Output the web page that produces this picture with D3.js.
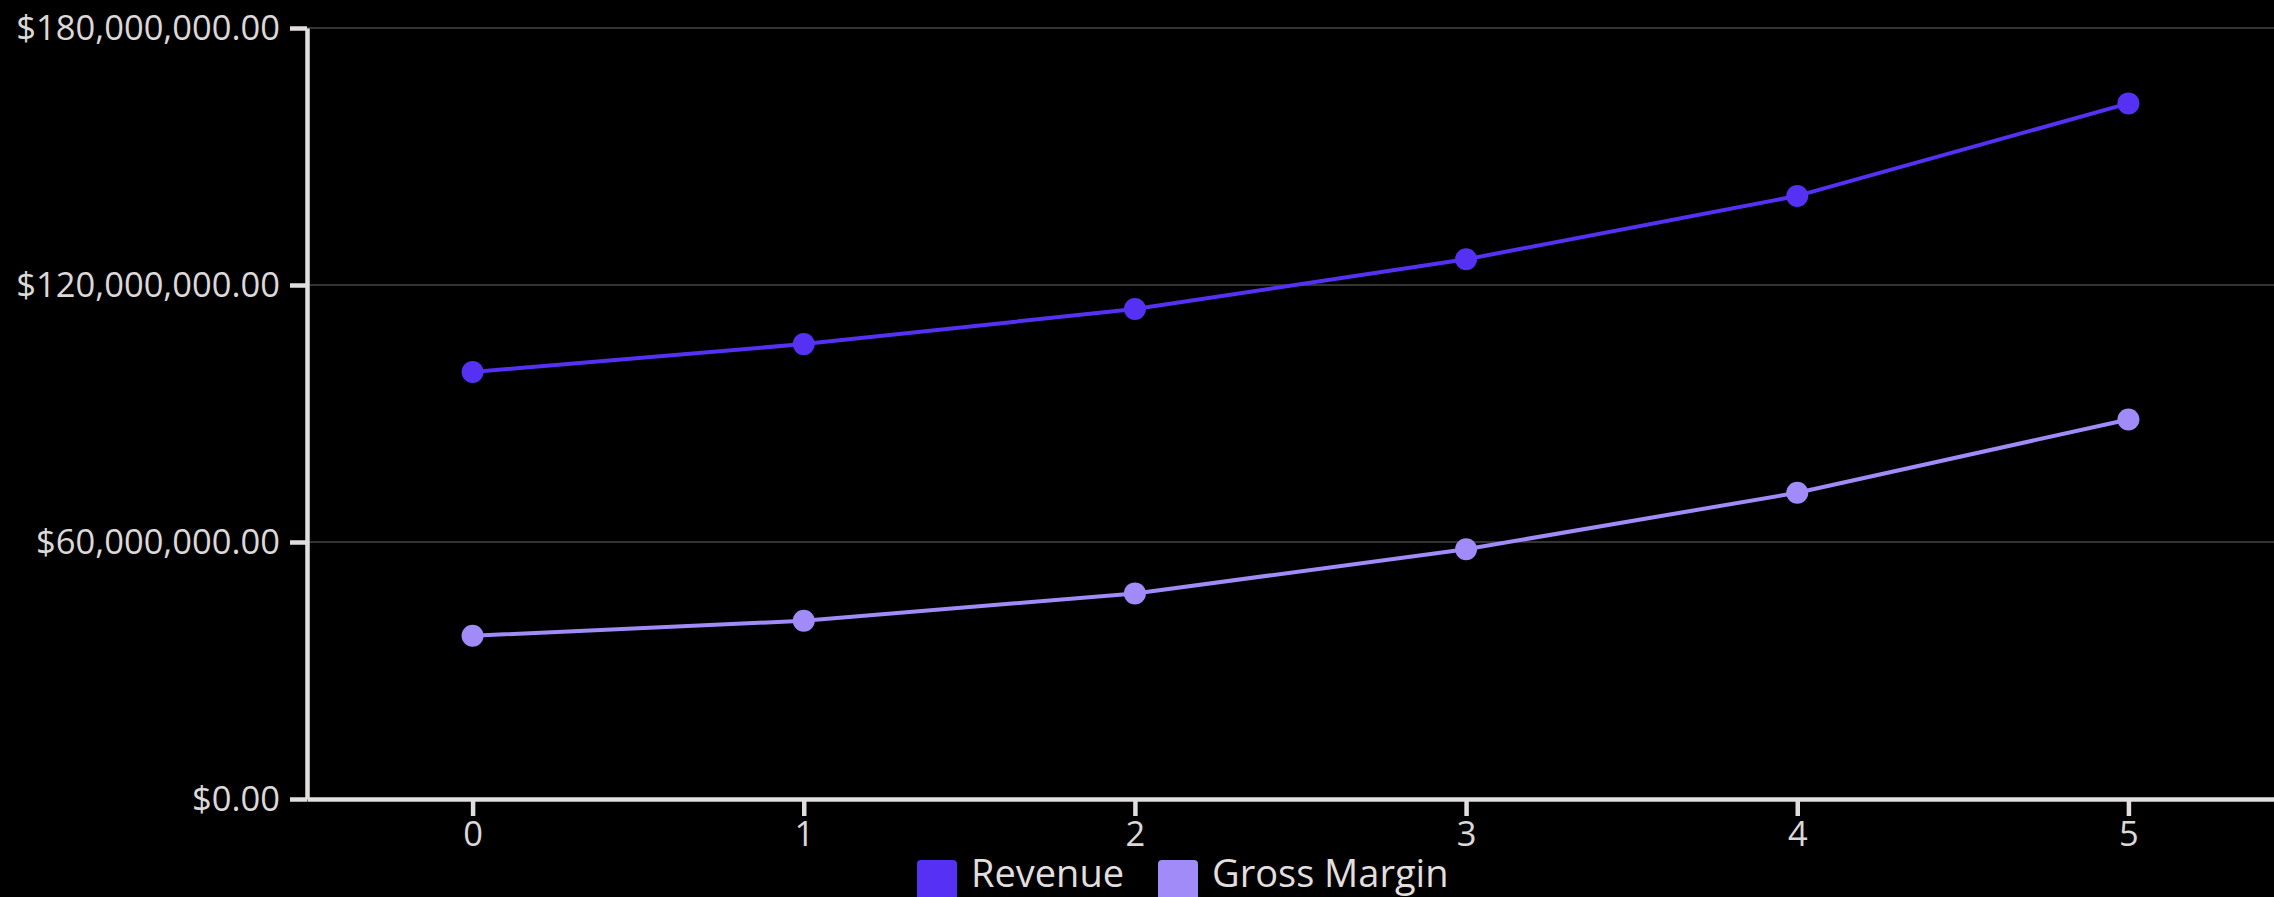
<!DOCTYPE html>
<html>
<head>
    <script src="https://d3js.org/d3.v7.min.js"></script>
    <style>
        html, body {
            margin: 0;
            padding: 0;
            background: #000;
            overflow: hidden;
        }
        body {
            font-family: 'Open Sans', sans-serif;
        }
        .axis text {
            fill: #dcd8d8;
            font-size: 34.5px;
            font-family: 'Open Sans', sans-serif;
        }
        .axis path, .axis line {
            stroke: #e2dede;
            stroke-width: 4.5px;
        }
        .grid line {
            stroke: #333;
            stroke-width: 2px;
        }
        .legend text {
            fill: #e2dede;
            font-size: 38px;
            font-family: 'Open Sans', sans-serif;
        }
    </style>
</head>
<body>
<div id="chart"></div>
<script>
////////////////////////////////////////////////////////////
//////////////////////// Data //////////////////////////////
////////////////////////////////////////////////////////////
var periods = [0, 1, 2, 3, 4, 5];
var revenue = [99700000, 106200000, 114400000, 126000000, 140800000, 162400000];
var grossMargin = [38100000, 41600000, 48000000, 58300000, 71500000, 88600000];
var yTicks = [0, 60000000, 120000000, 180000000];
var seriesNames = ["Revenue", "Gross Margin"];
var seriesColors = ["#5631f4", "#a08bf8"];

var series = [
    { name: seriesNames[0], color: seriesColors[0], values: revenue },
    { name: seriesNames[1], color: seriesColors[1], values: grossMargin }
];

////////////////////////////////////////////////////////////
//////////////////////// Set-Up ////////////////////////////
////////////////////////////////////////////////////////////
var width = 2274, height = 897;
var margin = {left: 307, top: 28, right: -20, bottom: 98};

var x = d3.scaleLinear()
    .domain([-0.5, 5.5])
    .range([margin.left, width - margin.right]);

var y = d3.scaleLinear()
    .domain([0, 180000000])
    .range([height - margin.bottom, margin.top]);

var svg = d3.select("#chart").append("svg")
    .attr("width", width)
    .attr("height", height)
    .style("display", "block");

// horizontal grid lines
svg.append("g")
    .attr("class", "grid")
    .selectAll("line")
    .data(yTicks.filter(function(d) { return d > 0; }))
    .enter().append("line")
    .attr("x1", margin.left)
    .attr("x2", width)
    .attr("y1", function(d) { return y(d); })
    .attr("y2", function(d) { return y(d); });

// y axis
var yAxis = svg.append("g")
    .attr("class", "axis")
    .attr("transform", "translate(" + margin.left + ",0)")
    .call(d3.axisLeft(y)
        .tickValues(yTicks)
        .tickFormat(d3.format("$,.2f"))
        .tickSize(17)
        .tickSizeOuter(0)
        .tickPadding(10));
yAxis.selectAll("text").attr("dy", "0.34em");

// x axis
var xAxis = svg.append("g")
    .attr("class", "axis")
    .attr("transform", "translate(0," + y(0) + ")")
    .call(d3.axisBottom(x)
        .tickValues(periods)
        .tickFormat(d3.format("d"))
        .tickSize(17)
        .tickSizeOuter(0)
        .tickPadding(6));

////////////////////////////////////////////////////////////
//////////////////////// Lines /////////////////////////////
////////////////////////////////////////////////////////////
var line = d3.line()
    .x(function(d, i) { return x(periods[i]); })
    .y(function(d) { return y(d); });

var lines = svg.selectAll("g.series")
    .data(series)
    .enter().append("g")
    .attr("class", "series");

lines.append("path")
    .attr("fill", "none")
    .attr("stroke", function(d) { return d.color; })
    .attr("stroke-width", 4)
    .attr("d", function(d) { return line(d.values); });

lines.selectAll("circle")
    .data(function(d) { return d.values.map(function(v, i) { return {v: v, i: i, color: d.color}; }); })
    .enter().append("circle")
    .attr("cx", function(d) { return x(periods[d.i]); })
    .attr("cy", function(d) { return y(d.v); })
    .attr("r", 11)
    .attr("fill", function(d) { return d.color; });

////////////////////////////////////////////////////////////
//////////////////////// Legend ////////////////////////////
////////////////////////////////////////////////////////////
var legend = svg.append("g")
    .attr("class", "legend")
    .attr("transform", "translate(917,860)");

var legendX = [0, 241];
var items = legend.selectAll("g")
    .data(series)
    .enter().append("g")
    .attr("transform", function(d, i) { return "translate(" + legendX[i] + ",0)"; });

items.append("rect")
    .attr("width", 40)
    .attr("height", 40)
    .attr("rx", 4)
    .attr("fill", function(d) { return d.color; });

items.append("text")
    .attr("x", 54)
    .attr("y", 27)
    .text(function(d) { return d.name; });
</script>
</body>
</html>
